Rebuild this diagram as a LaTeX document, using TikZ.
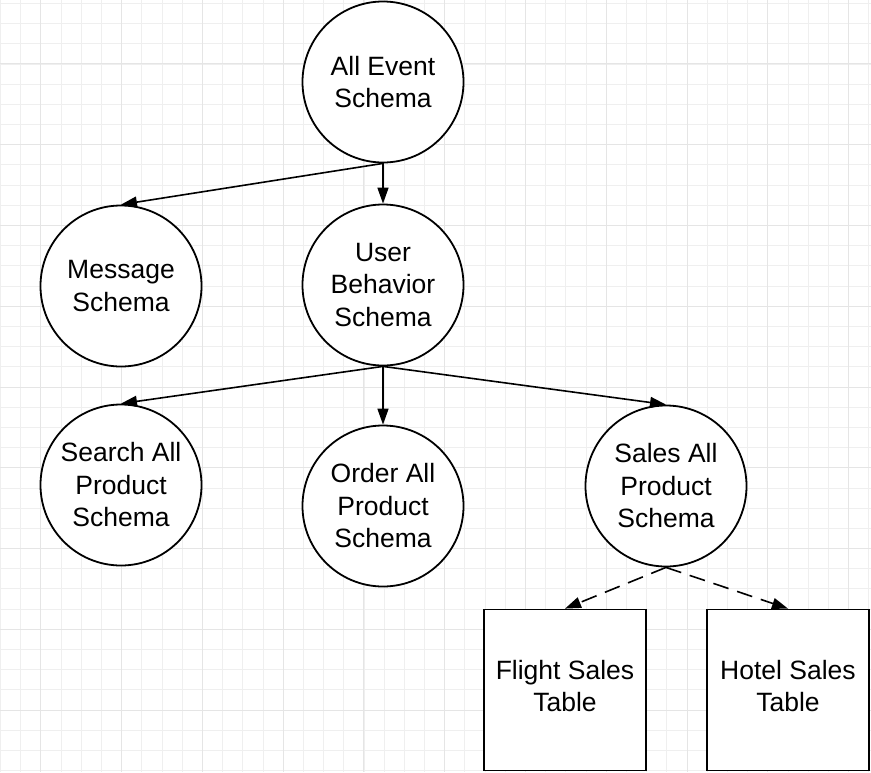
\documentclass[tikz,border=0pt]{standalone}
\usepackage{fontspec}
\setmainfont{Liberation Sans}
\usetikzlibrary{arrows.meta}
\definecolor{gridminor}{HTML}{EFEFEF}
\definecolor{gridmajor}{HTML}{E5E5E5}
\tikzset{
  labelfont/.style={font=\fontsize{26.5}{32.5}\selectfont},
  schema/.style={circle, draw, line width=1.8pt, fill=white, minimum size=161pt,
    inner sep=0pt, align=center, labelfont},
  tablebox/.style={rectangle, draw, line width=1.8pt, fill=white, minimum width=162pt,
    minimum height=161pt, inner sep=0pt},
  tabletext/.style={align=center, inner sep=0pt, labelfont},
  link/.style={line width=1.6pt, -{Triangle[length=16pt,width=11pt]}},
  dashlink/.style={link, dash pattern=on 16pt off 9pt},
  minorline/.style={gridminor, line width=0.9pt},
  majorline/.style={gridmajor, line width=1pt},
}
\begin{document}
\begin{tikzpicture}[x=1pt,y=-1pt]
\useasboundingbox (0,0) rectangle (871,772);
\fill[white] (0,0) rectangle (871,772);

% background grid
\foreach \k in {0,...,43} {
  \pgfmathsetmacro\gx{0.56+20.19*\k}
  \draw[minorline] (\gx,0) -- (\gx,772);
}
\foreach \k in {0,...,38} {
  \pgfmathsetmacro\gy{3.4+20.19*\k}
  \draw[minorline] (0,\gy) -- (871,\gy);
}
\foreach \k in {0,...,10} {
  \pgfmathsetmacro\gx{40.94+80.76*\k}
  \draw[majorline] (\gx,0) -- (\gx,772);
}
\foreach \k in {0,...,9} {
  \pgfmathsetmacro\gy{63.97+80.76*\k}
  \draw[majorline] (0,\gy) -- (871,\gy);
}

% schema hierarchy
\node[schema] (all)    at (383,82)  {All Event\\Schema};
\node[schema] (msg)    at (121,286) {Message\\Schema};
\node[schema] (user)   at (383,285) {User\\Behavior\\Schema};
\node[schema] (search) at (121,485) {Search All\\Product\\Schema};
\node[schema] (order)  at (383,506) {Order All\\Product\\Schema};
\node[schema] (sales)  at (666,486) {Sales All\\Product\\Schema};

% tables, with their captions sitting a little above centre
\node[tablebox] (flight) at (565,690) {};
\node[tablebox] (hotel)  at (788,690) {};
\node[tabletext] (flighttext) at ([yshift=4pt]flight.center) {Flight Sales\\Table};
\node[tabletext] (hoteltext)  at ([yshift=4pt]hotel.center)  {Hotel Sales\\Table};

\draw[link] (all.south) -- (msg.north);
\draw[link] (all.south) -- (user.north);
\draw[link] (user.south) -- (search.north);
\draw[link] (user.south) -- (order.north);
\draw[link] (user.south) -- (sales.north);
\draw[dashlink] (sales.south) -- (flight.north);
\draw[dashlink] (sales.south) -- (hotel.north);
\end{tikzpicture}
\end{document}
